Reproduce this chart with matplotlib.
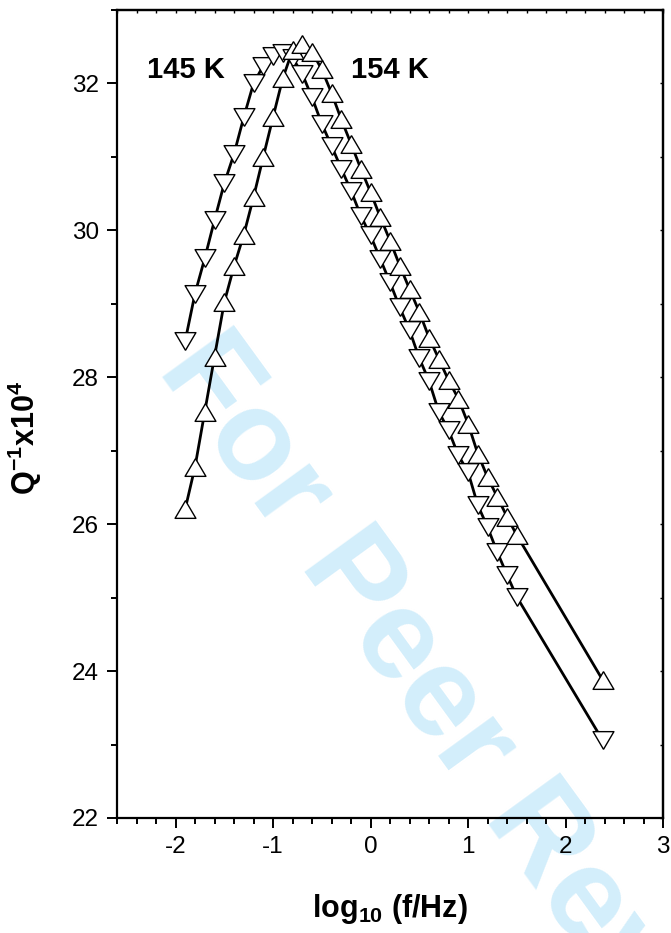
import matplotlib
matplotlib.use("Agg")
import matplotlib.pyplot as plt
from matplotlib.ticker import MultipleLocator

plt.rcParams["font.family"] = ["Liberation Sans", "DejaVu Sans"]
plt.rcParams["mathtext.fontset"] = "custom"
plt.rcParams["mathtext.rm"] = "Liberation Sans"
plt.rcParams["mathtext.bf"] = "Liberation Sans:bold"
plt.rcParams["axes.unicode_minus"] = False

# log10(f/Hz), shared by both temperatures
log_f = [-1.9, -1.8, -1.7, -1.6, -1.5, -1.4, -1.3, -1.2, -1.1, -1.0,
         -0.9, -0.8, -0.7, -0.6, -0.5, -0.4, -0.3, -0.2, -0.1, 0.0,
         0.1, 0.2, 0.3, 0.4, 0.5, 0.6, 0.7, 0.8, 0.9, 1.0,
         1.1, 1.2, 1.3, 1.4, 1.5, 2.38]

# Q^-1 x 10^4 at 145 K (down triangles)
q_145 = [28.50, 29.14, 29.62, 30.14, 30.64, 31.04, 31.54, 32.00, 32.24, 32.38,
         32.42, 32.35, 32.13, 31.81, 31.45, 31.15, 30.84, 30.54, 30.20, 29.93,
         29.61, 29.29, 28.95, 28.64, 28.26, 27.95, 27.53, 27.28, 26.94, 26.71,
         26.26, 25.96, 25.62, 25.31, 25.01, 23.06]

# Q^-1 x 10^4 at 154 K (up triangles)
q_154 = [26.21, 26.78, 27.53, 28.28, 29.02, 29.51, 29.94, 30.45, 31.00, 31.54,
         32.07, 32.45, 32.54, 32.43, 32.19, 31.87, 31.51, 31.18, 30.84, 30.52,
         30.18, 29.86, 29.52, 29.20, 28.89, 28.54, 28.25, 27.96, 27.71, 27.37,
         26.96, 26.64, 26.37, 26.10, 25.85, 23.88]

x_ticks = [-2, -1, 0, 1, 2, 3]
y_ticks = [22, 24, 26, 28, 30, 32]

fig = plt.figure(figsize=(6.71, 9.33), dpi=100)
ax = fig.add_axes([0.1744, 0.1233, 0.8137, 0.866])
ax.patch.set_visible(False)

# faint review watermark behind everything
fig.text(0.2335, 0.6037, "For Peer Review", rotation=-54, rotation_mode="anchor",
         ha="left", va="baseline", fontsize=92, fontweight="bold",
         color="#d3eefb", zorder=-5)

# closed triangle outlines, a bit wider than tall
tri_up = [(0, 0.85), (-1, -0.85), (1, -0.85), (0, 0.85)]
tri_down = [(0, -0.85), (-1, 0.85), (1, 0.85), (0, -0.85)]

ax.plot(log_f, q_145, color="black", lw=2.0, zorder=2)
ax.plot(log_f, q_154, color="black", lw=2.0, zorder=2)
ax.plot(log_f, q_145, ls="none", marker=tri_down, ms=15, mfc="white",
        mec="black", mew=1.0, zorder=3)
ax.plot(log_f, q_154, ls="none", marker=tri_up, ms=15, mfc="white",
        mec="black", mew=1.0, zorder=3)

ax.text(-1.89, 32.18, "145 K", fontsize=21, fontweight="bold",
        ha="center", va="center")
ax.text(0.195, 32.18, "154 K", fontsize=21, fontweight="bold",
        ha="center", va="center")

ax.set_xlim(-2.6, 3)
ax.set_ylim(22, 33)
ax.set_xticks(x_ticks)
ax.set_yticks(y_ticks)
ax.xaxis.set_minor_locator(MultipleLocator(0.2))
ax.yaxis.set_minor_locator(MultipleLocator(1))

for side in ax.spines.values():
    side.set_linewidth(1.6)

ax.tick_params(which="major", direction="out", length=7, width=1.4,
               labelsize=17.5, pad=6)
ax.tick_params(which="minor", direction="out", length=4, width=1.4)

# tiny inward ticks on the top and right frame
top = ax.secondary_xaxis("top")
top.set_xticks(x_ticks)
top.xaxis.set_minor_locator(MultipleLocator(0.2))
top.tick_params(which="both", direction="in", length=2, width=1.0,
                labeltop=False)
right = ax.secondary_yaxis("right")
right.set_yticks(y_ticks)
right.yaxis.set_minor_locator(MultipleLocator(1))
right.tick_params(which="both", direction="in", length=2, width=1.0,
                  labelright=False)
for sec in (top, right):
    for side in sec.spines.values():
        side.set_linewidth(1.6)

ax.set_xlabel(r"$\mathbf{log_{10}}$ (f/Hz)", fontsize=22, fontweight="bold")
ax.set_ylabel(r"$\mathbf{Q^{-1}x10^{4}}$", fontsize=22, fontweight="bold")
ax.xaxis.set_label_coords(0.5, -0.092)
ax.xaxis.label.set_va("top")
ax.yaxis.set_label_coords(-0.134, 0.47)

fig.savefig("out.png", dpi=100)
plt.close(fig)
